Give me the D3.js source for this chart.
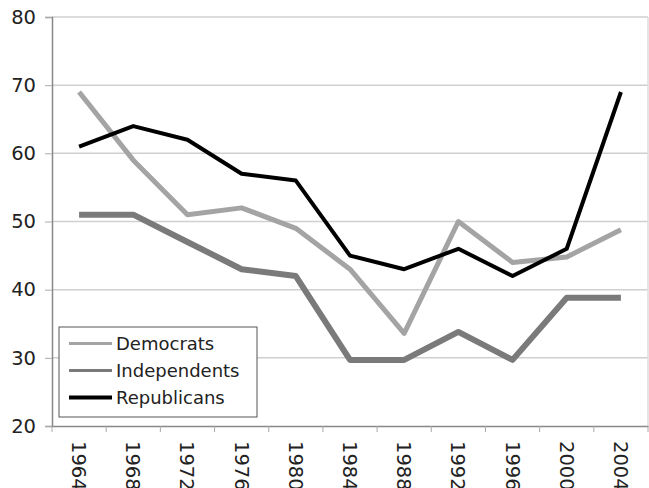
<!DOCTYPE html>
<html><head><meta charset="utf-8">
<script src="https://cdn.jsdelivr.net/npm/d3@7"></script>
<style>body{margin:0;background:#fff;} svg{display:block;font-family:"DejaVu Sans",Verdana,sans-serif;}</style>
</head><body>
<svg id="c" width="649" height="488"></svg>
<script>
const years = ["1964","1968","1972","1976","1980","1984","1988","1992","1996","2000","2004"];
const democrats = [69, 59, 51, 52, 49, 43, 33.6, 50, 44, 44.8, 48.8];
const independents = [51, 51, 47, 43, 42, 29.7, 29.7, 33.8, 29.7, 38.8, 38.8];
const republicans = [61, 64, 62, 57, 56, 45, 43, 46, 42, 46, 69];
const yTicks = [20, 30, 40, 50, 60, 70, 80];
const seriesNames = ["Democrats", "Independents", "Republicans"];
const seriesColors = ["#a4a4a4", "#7a7a7a", "#000000"];

(function () {
const series = [democrats, independents, republicans];
const svg = d3.select("#c");
const mLeft = 52, mRight = 648, mTop = 17, mBottom = 426;
const x = d3.scaleBand().domain(years).range([mLeft, mRight]);
const y = d3.scaleLinear().domain([20, 80]).range([mBottom, mTop]);
const font = "DejaVu Sans, Verdana, sans-serif";

// gridlines
svg.append("g").selectAll("line").data(yTicks.filter(d => d > 20)).join("line")
  .attr("x1", mLeft).attr("x2", mRight).attr("y1", d => y(d)).attr("y2", d => y(d))
  .attr("stroke", "#d0d0d0").attr("stroke-width", 1.5);
// right border
svg.append("line").attr("x1", mRight).attr("x2", mRight).attr("y1", mTop).attr("y2", mBottom)
  .attr("stroke", "#dcdcdc").attr("stroke-width", 1.5);

// y axis
const yAxis = svg.append("g").attr("transform", `translate(${mLeft},0)`)
  .call(d3.axisLeft(y).tickValues(yTicks).tickSize(7).tickPadding(9).tickFormat(d3.format("d")));
yAxis.select(".domain").attr("stroke", "#888").attr("stroke-width", 1.5);
yAxis.selectAll(".tick line").attr("stroke", "#aaa");
yAxis.selectAll(".tick text").attr("font-size", 19.5).attr("fill", "#222")
  .attr("font-family", font);

// x axis
const xAxis = svg.append("g").attr("transform", `translate(0,${mBottom})`)
  .call(d3.axisBottom(x).tickSize(0).tickPadding(0));
xAxis.select(".domain").attr("stroke", "#888").attr("stroke-width", 1.5);
xAxis.selectAll(".tick text")
  .attr("font-size", 19.5).attr("fill", "#222").attr("font-family", font)
  .attr("text-anchor", "start").attr("x", 15).attr("y", 0).attr("dy", "0.36em")
  .attr("transform", "rotate(90)");
// x tick marks between categories
const bounds = years.map(d => x(d)).concat([mRight]);
svg.append("g").selectAll("line").data(bounds).join("line")
  .attr("x1", d => d).attr("x2", d => d).attr("y1", mBottom).attr("y2", mBottom + 6)
  .attr("stroke", "#aaa").attr("stroke-width", 1);

// lines
const line = d3.line().x((d, i) => x(years[i]) + x.bandwidth() / 2).y(d => y(d));
const widths = [5, 6, 4];
series.forEach((s, i) => {
  svg.append("path").datum(s).attr("d", line).attr("fill", "none")
    .attr("stroke", seriesColors[i]).attr("stroke-width", widths[i])
    .attr("stroke-linejoin", "round").attr("stroke-linecap", "butt");
});

// legend
const lg = svg.append("g");
lg.append("rect").attr("x", 59).attr("y", 327).attr("width", 198).attr("height", 90)
  .attr("fill", "#fff").attr("stroke", "#555").attr("stroke-width", 1);
const lw = [3, 3, 4];
seriesNames.forEach((n, i) => {
  const yy = 343.5 + i * 27;
  lg.append("line").attr("x1", 69).attr("x2", 112).attr("y1", yy).attr("y2", yy)
    .attr("stroke", seriesColors[i]).attr("stroke-width", lw[i]);
  lg.append("text").attr("x", 116).attr("y", yy).attr("dy", "0.36em")
    .attr("font-size", 18).attr("fill", "#222").attr("font-family", font).text(n);
});
})();
</script>
</body></html>
